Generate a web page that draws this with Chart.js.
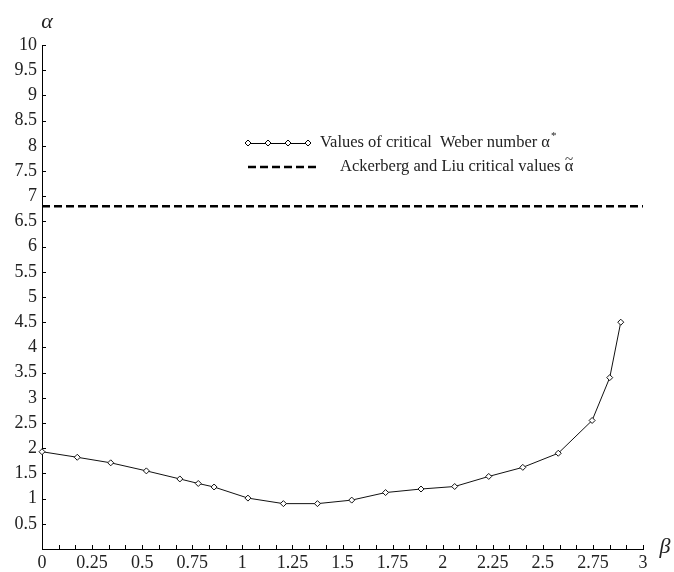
<!DOCTYPE html>
<html><head><meta charset="utf-8">
<script src="https://cdn.jsdelivr.net/npm/chart.js@4/dist/chart.umd.min.js"></script>
<style>html,body{margin:0;padding:0;background:#fff}#wrap{width:674px;height:572px;position:relative}</style>
</head><body><div id="wrap"><canvas id="c" width="674" height="572"></canvas></div>
<script>
// ---- data ----
const betaValues  = [0.0, 0.176, 0.343, 0.521, 0.688, 0.78, 0.859, 1.028, 1.205, 1.375, 1.546, 1.715, 1.892, 2.06, 2.23, 2.40, 2.577, 2.746, 2.834, 2.889];
const alphaValues = [1.93, 1.82, 1.71, 1.55, 1.39, 1.30, 1.23, 1.01, 0.90, 0.90, 0.97, 1.12, 1.19, 1.24, 1.44, 1.62, 1.90, 2.55, 3.40, 4.50];
const ackerbergValue = 6.8;
const ackerbergRange = [0, 3];
const xTickLabels = ['0','0.25','0.5','0.75','1','1.25','1.5','1.75','2','2.25','2.5','2.75','3'];
const yTickLabels = ['0.5','1','1.5','2','2.5','3','3.5','4','4.5','5','5.5','6','6.5','7','7.5','8','8.5','9','9.5','10'];
const seriesNames = ['Values of critical  Weber number \u03B1', 'Ackerberg and Liu critical values \u03B1'];
const axisNames = ['\u03B2', '\u03B1'];

const SERIF = '"Liberation Serif", "DejaVu Serif", serif';
const TXT = '#222';

const mainData = betaValues.map((b, i) => ({x: b, y: alphaValues[i]}));
const ackData = ackerbergRange.map(b => ({x: b, y: ackerbergValue}));

const inwardTicks = {
  id: 'inwardTicks',
  afterDraw(chart) {
    const ctx = chart.ctx, xs = chart.scales.x, ys = chart.scales.y, ca = chart.chartArea;
    ctx.save();
    ctx.strokeStyle = '#000';
    ctx.lineWidth = 1;
    ctx.beginPath();
    xs.ticks.forEach((t, i) => {
      if (i === 0) return;
      const p = Math.round(xs.getPixelForValue(t.value)) + 0.5;
      ctx.moveTo(p, ca.bottom); ctx.lineTo(p, ca.bottom - 4);
    });
    ys.ticks.forEach((t, i) => {
      if (i === 0) return;
      const p = Math.round(ys.getPixelForValue(t.value)) + 0.5;
      ctx.moveTo(ca.left, p); ctx.lineTo(ca.left + 4, p);
    });
    ctx.stroke();

    // axis names
    ctx.fillStyle = TXT;
    ctx.font = 'italic 22px ' + SERIF;
    ctx.textAlign = 'center'; ctx.textBaseline = 'middle';
    ctx.fillText(axisNames[1], ca.left + 5, ca.top - 23);
    ctx.fillText(axisNames[0], ca.right + 22, ca.bottom - 2);

    // legend
    const lx = 248, ly1 = 143, ly2 = 167;
    const FS = 16.5;
    ctx.font = FS + 'px ' + SERIF;
    ctx.textAlign = 'left'; ctx.textBaseline = 'middle';
    // row 1: line with diamonds
    ctx.strokeStyle = '#000'; ctx.lineWidth = 1;
    ctx.beginPath(); ctx.moveTo(lx, ly1 + 0.5); ctx.lineTo(lx + 62, ly1 + 0.5); ctx.stroke();
    [0, 20, 40, 60].forEach(dx => {
      ctx.beginPath();
      ctx.moveTo(lx + dx, ly1 - 3); ctx.lineTo(lx + dx + 3, ly1); ctx.lineTo(lx + dx, ly1 + 3); ctx.lineTo(lx + dx - 3, ly1); ctx.closePath();
      ctx.fillStyle = '#fff'; ctx.fill(); ctx.stroke();
    });
    ctx.fillStyle = TXT;
    const t1x = lx + 72;
    ctx.fillText(seriesNames[0], t1x, ly1);
    const w1 = ctx.measureText(seriesNames[0]).width;
    ctx.font = '11px ' + SERIF;
    ctx.fillText('*', t1x + w1 + 1, ly1 - 7);
    // row 2: dashed
    ctx.font = FS + 'px ' + SERIF;
    ctx.lineWidth = 2.5; ctx.setLineDash([8, 4]);
    ctx.beginPath(); ctx.moveTo(lx, ly2); ctx.lineTo(lx + 72, ly2); ctx.stroke();
    ctx.setLineDash([]);
    const t2x = lx + 92;
    ctx.fillText(seriesNames[1], t2x, ly2);
    const w2 = ctx.measureText(seriesNames[1]).width;
    const wa = ctx.measureText('\u03B1').width;
    ctx.font = '15px ' + SERIF;
    ctx.textAlign = 'center';
    ctx.fillText('~', t2x + w2 - wa / 2, ly2 - 7);
    ctx.restore();
  }
};

new Chart(document.getElementById('c'), {
  type: 'line',
  data: {
    datasets: [
      { label: seriesNames[0], data: mainData, borderColor: '#111', borderWidth: 1,
        pointStyle: 'rectRot', pointRadius: 3, pointBorderWidth: 1,
        pointBackgroundColor: '#fff', pointBorderColor: '#111', tension: 0, clip: false },
      { label: seriesNames[1], data: ackData, borderColor: '#000', borderWidth: 2.5,
        borderDash: [8, 4], pointRadius: 0, tension: 0 }
    ]
  },
  options: {
    responsive: false, animation: false, devicePixelRatio: 1,
    layout: { padding: { left: 0, right: 31, top: 45, bottom: 0 } },
    plugins: { legend: { display: false }, tooltip: { enabled: false } },
    scales: {
      x: {
        type: 'linear', min: 0, max: 3,
        afterBuildTicks: s => { s.ticks = Array.from({length: 37}, (_, i) => ({value: i / 12})); },
        afterFit: s => { s.height = 23; },
        grid: { display: false, drawTicks: false },
        border: { display: true, color: '#000', width: 1 },
        ticks: { autoSkip: false, maxRotation: 0, padding: 3, color: TXT,
          font: { family: SERIF, size: 18 },
          callback: (v, i) => (i % 3 === 0 ? xTickLabels[i / 3] : '') }
      },
      y: {
        type: 'linear', min: 0, max: 10,
        afterBuildTicks: s => { s.ticks = Array.from({length: 21}, (_, i) => ({value: i * 0.5})); },
        afterFit: s => { s.width = 42; },
        grid: { display: false, drawTicks: false },
        border: { display: true, color: '#000', width: 1 },
        ticks: { autoSkip: false, padding: 5, color: TXT,
          font: { family: SERIF, size: 18 },
          callback: (v, i) => (i === 0 ? '' : yTickLabels[i - 1]) }
      }
    }
  },
  plugins: [inwardTicks]
});
</script></body></html>
